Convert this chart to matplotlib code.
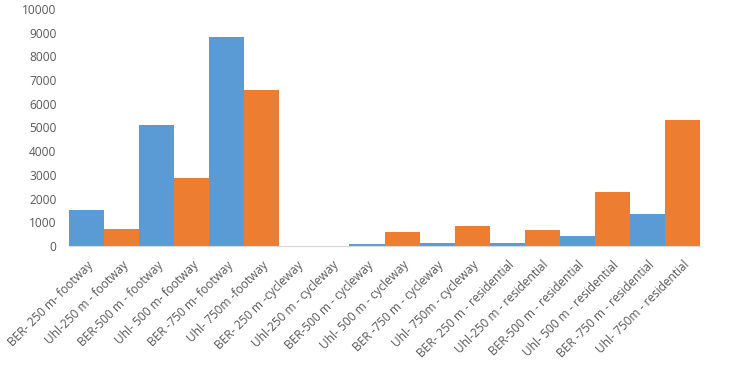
import numpy as np
import matplotlib
matplotlib.use('Agg')
import matplotlib.pyplot as plt

plt.rcParams['font.family'] = ['Open Sans', 'DejaVu Sans']

labels = ["BER- 250 m- footway", "Uhl-250 m - footway", "BER-500 m - footway",
          "Uhl- 500 m- footway", "BER -750 m- footway", "Uhl- 750m -footway",
          "BER- 250 m -cycleway", "Uhl-250 m - cycleway", "BER-500 m - cycleway",
          "Uhl- 500 m - cycleway", "BER -750 m - cycleway", "Uhl- 750m - cycleway",
          "BER- 250 m - residential", "Uhl-250 m - residential", "BER-500 m - residential",
          "Uhl- 500 m - residential", "BER -750 m - residential", "Uhl- 750m - residential"]
values = [1500, 720, 5100, 2850, 8830, 6600,
          15, 5, 70, 600, 120, 855,
          110, 690, 420, 2260, 1350, 5300]

blue = '#5B9BD5'
orange = '#ED7D31'
colors = [blue if l.startswith('BER') else orange for l in labels]

fig = plt.figure(figsize=(7.32, 3.76), dpi=100)
ax = fig.add_axes([69 / 732, 1 - 246 / 376, 631 / 732, 237 / 376])

x = np.arange(len(labels))
ax.bar(x, values, width=1.0, color=colors)

ax.set_xlim(-0.5, len(labels) - 0.5)
ax.set_ylim(0, 10000)
ax.set_yticks(np.arange(0, 10001, 1000))
ax.set_xticks(x)
ax.set_xticklabels(labels, rotation=45, ha='right', rotation_mode='anchor')

for s in ['top', 'right', 'left']:
    ax.spines[s].set_visible(False)
ax.spines['bottom'].set_color('#d9d9d9')
ax.tick_params(axis='both', length=0, labelsize=8.6, colors='#595959')
ax.tick_params(axis='y', pad=9)
ax.tick_params(axis='x', pad=9)

fig.savefig('out.png', dpi=100)
